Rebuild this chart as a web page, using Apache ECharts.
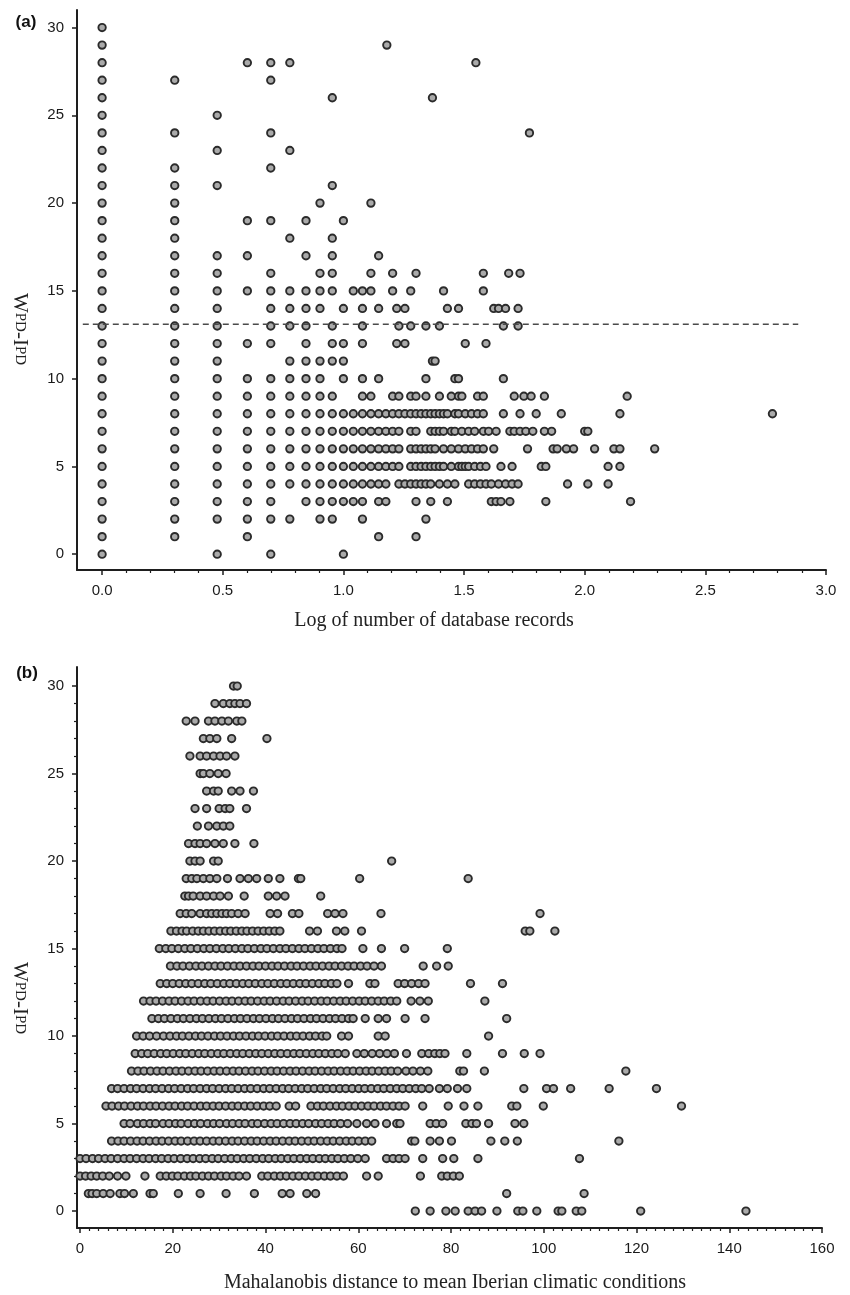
<!DOCTYPE html>
<html>
<head>
<meta charset="utf-8">
<script src="https://cdn.jsdelivr.net/npm/echarts@6/dist/echarts.min.js"></script>
<style>
html,body{margin:0;padding:0;background:#fff;}
#chart{width:850px;height:1295px;}
</style>
</head>
<body>
<div id="chart"></div>
<script>
// WPD-IPD levels (y values); each row of the panel arrays below holds the x values at that level
const wpdLevels = [0,1,2,3,4,5,6,7,8,9,10,11,12,13,14,15,16,17,18,19,20,21,22,23,24,25,26,27,28,29,30];

// Panel (a): log of number of database records, listed per WPD-IPD level
const panelA_logRecords = [
  [0, 0.477, 0.699, 1.0],
  [0, 0.301, 0.602, 1.146, 1.301],
  [0, 0.301, 0.477, 0.602, 0.699, 0.778, 0.903, 0.954, 1.079, 1.342],
  [0, 0.301, 0.477, 0.602, 0.699, 0.845, 0.903, 0.954, 1.0, 1.041, 1.079, 1.146, 1.176, 1.301, 1.362, 1.431, 1.613, 1.633, 1.653, 1.69, 1.839, 2.190],
  [0, 0.301, 0.477, 0.602, 0.699, 0.778, 0.845, 0.903, 0.954, 1.0, 1.041, 1.079, 1.114, 1.146, 1.176, 1.230, 1.255, 1.279, 1.301, 1.322, 1.342, 1.362, 1.398, 1.431, 1.462, 1.519, 1.544, 1.568, 1.591, 1.613, 1.643, 1.672, 1.699, 1.724, 1.929, 2.013, 2.097],
  [0, 0.301, 0.477, 0.602, 0.699, 0.778, 0.845, 0.903, 0.954, 1.0, 1.041, 1.079, 1.114, 1.146, 1.176, 1.204, 1.230, 1.279, 1.301, 1.322, 1.342, 1.362, 1.380, 1.398, 1.415, 1.447, 1.477, 1.491, 1.505, 1.519, 1.544, 1.568, 1.591, 1.653, 1.699, 1.820, 1.839, 2.097, 2.146],
  [0, 0.301, 0.477, 0.602, 0.699, 0.778, 0.845, 0.903, 0.954, 1.0, 1.041, 1.079, 1.114, 1.146, 1.176, 1.204, 1.230, 1.279, 1.301, 1.322, 1.342, 1.362, 1.380, 1.415, 1.447, 1.477, 1.505, 1.531, 1.556, 1.58, 1.623, 1.763, 1.869, 1.886, 1.924, 1.954, 2.041, 2.121, 2.146, 2.290],
  [0, 0.301, 0.477, 0.602, 0.699, 0.778, 0.845, 0.903, 0.954, 1.0, 1.041, 1.079, 1.114, 1.146, 1.176, 1.204, 1.230, 1.279, 1.301, 1.362, 1.380, 1.398, 1.415, 1.447, 1.462, 1.491, 1.519, 1.544, 1.58, 1.602, 1.633, 1.69, 1.708, 1.732, 1.756, 1.785, 1.833, 1.863, 2.0, 2.013],
  [0, 0.301, 0.477, 0.602, 0.699, 0.778, 0.845, 0.903, 0.954, 1.0, 1.041, 1.079, 1.114, 1.146, 1.176, 1.204, 1.230, 1.255, 1.279, 1.301, 1.322, 1.342, 1.362, 1.380, 1.398, 1.415, 1.431, 1.462, 1.477, 1.505, 1.531, 1.556, 1.58, 1.663, 1.732, 1.799, 1.903, 2.146, 2.778],
  [0, 0.301, 0.477, 0.602, 0.699, 0.778, 0.845, 0.903, 0.954, 1.079, 1.114, 1.204, 1.230, 1.279, 1.301, 1.342, 1.398, 1.447, 1.477, 1.491, 1.556, 1.58, 1.708, 1.748, 1.778, 1.833, 2.176],
  [0, 0.301, 0.477, 0.602, 0.699, 0.778, 0.845, 0.903, 1.0, 1.079, 1.146, 1.342, 1.462, 1.477, 1.663],
  [0, 0.301, 0.477, 0.778, 0.845, 0.903, 0.954, 1.0, 1.369, 1.380],
  [0, 0.301, 0.477, 0.602, 0.699, 0.845, 0.954, 1.0, 1.079, 1.221, 1.255, 1.505, 1.591],
  [0, 0.301, 0.477, 0.699, 0.778, 0.845, 0.954, 1.079, 1.230, 1.279, 1.342, 1.398, 1.663, 1.724],
  [0, 0.301, 0.477, 0.699, 0.778, 0.845, 0.903, 1.0, 1.079, 1.146, 1.221, 1.255, 1.431, 1.477, 1.623, 1.643, 1.672, 1.724],
  [0, 0.301, 0.477, 0.602, 0.699, 0.778, 0.845, 0.903, 0.954, 1.041, 1.079, 1.114, 1.204, 1.279, 1.415, 1.58],
  [0, 0.301, 0.477, 0.699, 0.903, 0.954, 1.114, 1.204, 1.301, 1.58, 1.685, 1.732],
  [0, 0.301, 0.477, 0.602, 0.845, 0.954, 1.146],
  [0, 0.301, 0.778, 0.954],
  [0, 0.301, 0.602, 0.699, 0.845, 1.0],
  [0, 0.301, 0.903, 1.114],
  [0, 0.301, 0.477, 0.954],
  [0, 0.301, 0.699],
  [0, 0.477, 0.778],
  [0, 0.301, 0.699, 1.771],
  [0, 0.477],
  [0, 0.954, 1.369],
  [0, 0.301, 0.699],
  [0, 0.602, 0.699, 0.778, 1.549],
  [0, 1.18],
  [0]
];

// Panel (b): Mahalanobis distance to mean Iberian climatic conditions, per WPD-IPD level
const panelB_mahalanobis = [
  [72.3, 75.5, 78.9, 80.9, 83.7, 85.2, 86.6, 89.9, 94.4, 95.5, 98.5, 103.1, 103.9, 107.0, 108.2, 120.9, 143.6],
  [1.8, 2.6, 3.6, 5.0, 6.5, 8.6, 9.6, 11.5, 15.1, 15.8, 21.2, 25.9, 31.5, 37.6, 43.6, 45.3, 48.9, 50.8, 92.0, 108.7],
  [0.0, 1.2, 2.4, 3.6, 4.9, 6.3, 8.1, 9.9, 14.0, 17.3, 18.6, 19.9, 21.1, 22.5, 23.8, 25.0, 26.4, 27.7, 29.0, 30.4, 31.6, 33.0, 34.3, 35.9, 39.2, 40.5, 41.9, 43.2, 44.5, 45.9, 47.2, 48.6, 50.0, 51.3, 52.7, 54.0, 55.4, 56.8, 61.8, 64.3, 73.4, 78.0, 79.2, 80.5, 81.8],
  [0.0, 1.3, 2.7, 4.0, 5.4, 6.7, 8.1, 9.5, 10.8, 12.2, 13.6, 14.9, 16.3, 17.6, 19.0, 20.3, 21.7, 23.1, 24.4, 25.8, 27.1, 28.5, 29.8, 31.2, 32.6, 33.9, 35.3, 36.6, 38.0, 39.4, 40.7, 42.1, 43.4, 44.8, 46.1, 47.5, 48.9, 50.2, 51.6, 52.9, 54.3, 55.6, 57.0, 58.4, 59.9, 61.5, 66.1, 67.5, 68.8, 70.1, 73.9, 78.2, 80.6, 85.8, 107.7],
  [6.8, 8.2, 9.5, 10.9, 12.3, 13.6, 15.0, 16.4, 17.7, 19.1, 20.5, 21.8, 23.2, 24.6, 25.9, 27.3, 28.7, 30.0, 31.4, 32.8, 34.1, 35.5, 36.9, 38.2, 39.6, 41.0, 42.3, 43.7, 45.1, 46.4, 47.8, 49.2, 50.5, 51.9, 53.3, 54.6, 56.0, 57.4, 58.7, 60.1, 61.5, 62.9, 71.5, 72.2, 75.5, 77.5, 80.1, 88.6, 91.6, 94.3, 116.2],
  [9.5, 10.8, 12.4, 13.7, 15.1, 16.3, 17.9, 19.2, 20.6, 21.8, 23.3, 24.7, 26.0, 27.5, 28.8, 30.1, 31.6, 32.9, 34.3, 35.6, 37.1, 38.3, 39.8, 41.2, 42.5, 43.9, 45.3, 46.6, 48.0, 49.3, 50.8, 52.1, 53.5, 54.8, 56.2, 57.7, 59.7, 61.8, 63.6, 66.1, 68.3, 69.0, 75.5, 76.8, 78.2, 83.2, 84.5, 85.5, 88.1, 93.8, 95.7],
  [5.6, 6.9, 8.3, 9.6, 11.0, 12.4, 13.7, 15.1, 16.4, 17.8, 19.2, 20.5, 21.9, 23.2, 24.6, 26.0, 27.3, 28.7, 30.0, 31.4, 32.8, 34.1, 35.5, 36.8, 38.2, 39.6, 40.9, 42.3, 45.1, 46.5, 49.8, 51.2, 52.5, 53.9, 55.3, 56.6, 58.0, 59.3, 60.7, 62.1, 63.4, 64.8, 66.1, 67.5, 68.8, 70.1, 73.9, 79.4, 82.8, 85.8, 93.1, 94.2, 99.9, 129.7],
  [6.8, 8.1, 9.5, 10.9, 12.2, 13.6, 15.0, 16.3, 17.7, 19.1, 20.4, 21.8, 23.2, 24.5, 25.9, 27.3, 28.6, 30.0, 31.4, 32.7, 34.1, 35.5, 36.8, 38.2, 39.6, 40.9, 42.3, 43.7, 45.0, 46.4, 47.8, 49.1, 50.5, 51.9, 53.2, 54.6, 56.0, 57.3, 58.7, 60.1, 61.4, 62.8, 64.2, 65.5, 66.9, 68.3, 69.6, 71.0, 72.4, 73.7, 75.3, 77.5, 79.2, 81.4, 83.4, 95.7, 100.6, 102.1, 105.8, 114.1, 124.3],
  [11.1, 12.5, 13.8, 15.2, 16.6, 17.9, 19.3, 20.7, 22.0, 23.4, 24.8, 26.1, 27.5, 28.9, 30.2, 31.6, 33.0, 34.3, 35.7, 37.1, 38.4, 39.8, 41.2, 42.5, 43.9, 45.3, 46.6, 48.0, 49.4, 50.7, 52.1, 53.5, 54.8, 56.2, 57.6, 58.9, 60.3, 61.7, 63.0, 64.4, 65.8, 67.1, 68.5, 70.3, 71.8, 73.4, 75.0, 81.9, 82.7, 87.2, 117.7],
  [11.9, 13.3, 14.6, 16.0, 17.4, 18.7, 20.1, 21.5, 22.8, 24.2, 25.6, 26.9, 28.3, 29.7, 31.0, 32.4, 33.8, 35.1, 36.5, 37.9, 39.2, 40.6, 42.0, 43.3, 44.7, 46.1, 47.4, 48.8, 50.2, 51.5, 52.9, 54.3, 55.6, 57.2, 59.7, 61.3, 63.0, 64.6, 66.2, 67.8, 70.4, 73.7, 75.2, 76.5, 77.6, 78.7, 83.4, 91.1, 95.8, 99.2],
  [12.2, 13.6, 15.0, 16.5, 18.0, 19.4, 20.8, 22.1, 23.5, 24.9, 26.2, 27.6, 29.0, 30.3, 31.7, 33.1, 34.4, 35.8, 37.2, 38.5, 39.9, 41.3, 42.6, 44.0, 45.4, 46.7, 48.1, 49.5, 50.8, 52.2, 53.2, 56.4, 57.9, 64.3, 65.8, 88.1],
  [15.5, 16.9, 18.2, 19.6, 21.0, 22.3, 23.7, 25.1, 26.4, 27.8, 29.2, 30.5, 31.9, 33.3, 34.6, 36.0, 37.4, 38.7, 40.1, 41.5, 42.8, 44.2, 45.6, 46.9, 48.3, 49.7, 51.0, 52.4, 53.8, 55.1, 56.5, 57.9, 58.9, 61.5, 64.3, 66.1, 70.1, 74.4, 92.0],
  [13.7, 15.1, 16.4, 17.8, 19.2, 20.5, 21.9, 23.3, 24.6, 26.0, 27.4, 28.7, 30.1, 31.5, 32.8, 34.2, 35.6, 36.9, 38.3, 39.7, 41.0, 42.4, 43.8, 45.1, 46.5, 47.9, 49.2, 50.6, 52.0, 53.3, 54.7, 56.1, 57.4, 58.8, 60.2, 61.5, 62.9, 64.3, 65.6, 67.0, 68.3, 71.4, 73.3, 75.1, 87.3],
  [17.3, 18.7, 20.0, 21.4, 22.8, 24.1, 25.5, 26.9, 28.2, 29.6, 31.0, 32.3, 33.7, 35.1, 36.4, 37.8, 39.2, 40.5, 41.9, 43.3, 44.6, 46.0, 47.4, 48.7, 50.1, 51.5, 52.8, 54.2, 55.4, 57.9, 62.5, 63.6, 68.6, 70.0, 71.5, 73.0, 74.4, 84.2, 91.1],
  [19.5, 20.9, 22.2, 23.6, 25.0, 26.3, 27.7, 29.1, 30.4, 31.8, 33.2, 34.5, 35.9, 37.3, 38.6, 40.0, 41.4, 42.7, 44.1, 45.5, 46.8, 48.2, 49.6, 50.9, 52.3, 53.7, 55.0, 56.4, 57.8, 59.1, 60.5, 61.9, 63.4, 65.0, 74.0, 76.9, 79.4],
  [17.1, 18.5, 19.8, 21.2, 22.6, 23.9, 25.3, 26.7, 28.0, 29.4, 30.8, 32.1, 33.5, 34.9, 36.2, 37.6, 39.0, 40.3, 41.7, 43.1, 44.4, 45.8, 47.2, 48.5, 49.9, 51.3, 52.6, 54.0, 55.4, 56.5, 61.0, 65.0, 70.0, 79.2],
  [19.6, 20.8, 22.0, 23.0, 24.3, 25.5, 26.6, 27.8, 29.0, 30.2, 31.4, 32.5, 33.7, 34.9, 36.0, 37.2, 38.4, 39.6, 40.8, 42.0, 43.1, 49.5, 51.2, 55.3, 57.1, 60.7, 96.0, 97.0, 102.4],
  [21.6, 22.9, 24.1, 25.9, 27.3, 28.4, 29.5, 30.6, 31.6, 32.7, 34.1, 35.6, 41.0, 42.6, 45.8, 47.2, 53.4, 55.0, 56.7, 64.9, 99.2],
  [22.6, 23.4, 24.4, 25.9, 27.3, 28.8, 30.2, 32.0, 35.4, 40.6, 42.4, 44.2, 51.9],
  [22.9, 24.1, 25.2, 26.6, 28.0, 29.5, 31.8, 34.5, 36.3, 38.1, 40.6, 43.1, 47.1, 47.6, 60.3, 83.7],
  [23.7, 24.8, 25.9, 28.8, 29.8, 67.2],
  [23.4, 24.8, 25.9, 27.3, 29.1, 30.9, 33.4, 37.5],
  [25.3, 27.7, 29.5, 30.9, 32.3],
  [24.8, 27.3, 30.0, 31.3, 32.3, 35.9],
  [27.3, 28.8, 29.8, 32.7, 34.5, 37.4],
  [25.9, 26.6, 28.0, 29.8, 31.5],
  [23.7, 25.9, 27.3, 28.8, 30.2, 31.6, 33.4],
  [26.6, 28.0, 29.5, 32.7, 40.3],
  [22.9, 24.8, 27.7, 29.1, 30.6, 32.0, 33.8, 34.9],
  [29.1, 30.9, 32.3, 33.4, 34.5, 35.9],
  [33.1, 33.9]
];

// Dashed reference line in panel (a)
const thresholdA = 13.1;
const thresholdA_xRange = [-0.08, 2.885];

// Tick labels
const xTicksA = [0, 0.5, 1.0, 1.5, 2.0, 2.5, 3.0];
const yTicks = [0, 5, 10, 15, 20, 25, 30];
const xTicksB = [0, 20, 40, 60, 80, 100, 120, 140, 160];

// ---------- build ----------
function rowsToPoints(rows) {
  const pts = [];
  rows.forEach((xs, i) => xs.forEach(x => pts.push([x, wpdLevels[i]])));
  return pts;
}
const dataA = rowsToPoints(panelA_logRecords);
const dataB = rowsToPoints(panelB_mahalanobis);

function minorTicks(from, to, step, majorStep) {
  const out = [];
  for (let k = 0; from + k * step <= to + 1e-9; k++) {
    const v = Math.round((from + k * step) * 1000) / 1000;
    if (Math.abs(v / majorStep - Math.round(v / majorStep)) > 1e-6) out.push(v);
  }
  return out;
}

const labelFont = { fontFamily: 'Liberation Sans, Arial, sans-serif', fontSize: 15, color: '#1a1a1a' };
const axisLineStyle = { color: '#1e1e1e', width: 2 };

const symbolStyle = { color: '#aaaaaa', borderColor: '#2b2b2b', borderWidth: 1.9, opacity: 1 };

const chart = echarts.init(document.getElementById('chart'), null, { renderer: 'canvas' });

const gridA = { left: 77, top: 10, width: 749, height: 560 };
const gridB = { left: 77, top: 667, width: 745, height: 561 };

const xRangeA = { min: -0.104, max: 3.0 };
const yRangeA = { min: -0.9, max: 31.0 };
const xRangeB = { min: -0.65, max: 160 };
const yRangeB = { min: -0.97, max: 31.09 };

function majorAxis(gridIndex, range, ticks, fmt, isX) {
  return {
    type: 'value', gridIndex, min: range.min, max: range.max,
    position: isX ? 'bottom' : 'left',
    axisLine: { show: true, onZero: false, lineStyle: axisLineStyle },
    axisTick: { show: true, inside: false, length: 5, customValues: ticks, lineStyle: { color: '#1e1e1e', width: 1.5 } },
    axisLabel: Object.assign({ show: true, margin: 13, customValues: ticks, formatter: fmt }, labelFont),
    splitLine: { show: false }
  };
}
function minorAxis(gridIndex, range, ticks, isX) {
  return {
    type: 'value', gridIndex, min: range.min, max: range.max,
    position: isX ? 'bottom' : 'left',
    axisLine: { show: false, onZero: false },
    axisTick: { show: true, inside: false, length: 3, customValues: ticks, lineStyle: { color: '#1e1e1e', width: 1.2 } },
    axisLabel: { show: false },
    splitLine: { show: false }
  };
}

const option = {
  animation: false,
  backgroundColor: '#ffffff',
  grid: [gridA, gridB],
  xAxis: [
    majorAxis(0, xRangeA, xTicksA, v => Number(v).toFixed(1), true),
    majorAxis(1, xRangeB, xTicksB, v => String(v), true),
    minorAxis(0, xRangeA, minorTicks(0, 3.0, 0.1, 0.5), true),
    minorAxis(1, xRangeB, minorTicks(0, 160, 2, 20), true)
  ],
  yAxis: [
    majorAxis(0, yRangeA, yTicks, v => String(v), false),
    majorAxis(1, yRangeB, yTicks, v => String(v), false),
    minorAxis(1, yRangeB, minorTicks(0, 30, 1, 5), false)
  ],
  series: [
    {
      type: 'scatter', xAxisIndex: 0, yAxisIndex: 0, data: dataA,
      symbol: 'circle', symbolSize: 7.4, itemStyle: symbolStyle, z: 2
    },
    {
      type: 'line', xAxisIndex: 0, yAxisIndex: 0,
      data: [[thresholdA_xRange[0], thresholdA], [thresholdA_xRange[1], thresholdA]],
      symbol: 'none', silent: true, z: 3,
      lineStyle: { color: '#4a4a4a', width: 1.6, type: [6, 4] }
    },
    {
      type: 'scatter', xAxisIndex: 1, yAxisIndex: 1, data: dataB,
      symbol: 'circle', symbolSize: 7.4, itemStyle: symbolStyle, z: 2
    }
  ],
  graphic: [
    { type: 'text', x: 26, y: 22, style: { text: '(a)', fontFamily: 'Liberation Sans, Arial, sans-serif', fontWeight: 'bold', fontSize: 17, fill: '#111', align: 'center', verticalAlign: 'middle' } },
    { type: 'text', x: 27, y: 673, style: { text: '(b)', fontFamily: 'Liberation Sans, Arial, sans-serif', fontWeight: 'bold', fontSize: 17, fill: '#111', align: 'center', verticalAlign: 'middle' } },
    {
      type: 'text', x: 20, y: 329, rotation: -Math.PI / 2,
      style: {
        text: '{a|W}{b|PD}{a|-I}{b|PD}', align: 'center', verticalAlign: 'middle',
        rich: {
          a: { fontFamily: 'Liberation Serif, Times New Roman, serif', fontSize: 21, fill: '#222' },
          b: { fontFamily: 'Liberation Serif, Times New Roman, serif', fontSize: 15, fill: '#222' }
        }
      }
    },
    {
      type: 'text', x: 20, y: 998, rotation: -Math.PI / 2,
      style: {
        text: '{a|W}{b|PD}{a|-I}{b|PD}', align: 'center', verticalAlign: 'middle',
        rich: {
          a: { fontFamily: 'Liberation Serif, Times New Roman, serif', fontSize: 21, fill: '#222' },
          b: { fontFamily: 'Liberation Serif, Times New Roman, serif', fontSize: 15, fill: '#222' }
        }
      }
    },
    { type: 'text', x: 434, y: 621, style: { text: 'Log of number of database records', fontFamily: 'Liberation Serif, Times New Roman, serif', fontSize: 20, fill: '#222', align: 'center', verticalAlign: 'middle' } },
    { type: 'text', x: 455, y: 1283, style: { text: 'Mahalanobis distance to mean Iberian climatic conditions', fontFamily: 'Liberation Serif, Times New Roman, serif', fontSize: 20, fill: '#222', align: 'center', verticalAlign: 'middle' } }
  ]
};

chart.setOption(option);
</script>
</body>
</html>
